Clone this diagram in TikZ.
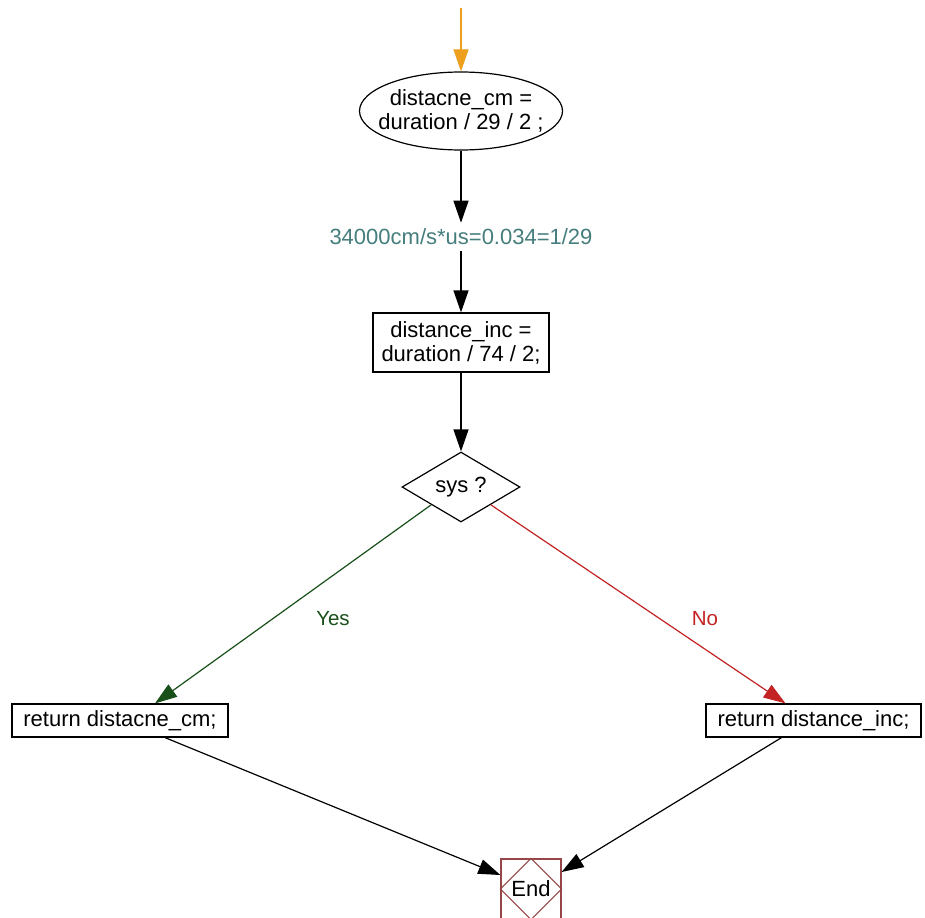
\documentclass[tikz,border=0pt]{standalone}
\usepackage{fontspec}
\setmainfont{Liberation Sans}
\usetikzlibrary{shapes.geometric,arrows.meta,calc}

\definecolor{floworange}{RGB}{236,160,30}
\definecolor{noteteal}{RGB}{70,125,125}
\definecolor{yesgreen}{RGB}{25,80,25}
\definecolor{nored}{RGB}{195,35,35}
\definecolor{endred}{RGB}{150,70,70}

\tikzset{
  base/.style={font=\fontsize{22}{24}\selectfont, align=center},
  proc/.style={base, draw, line width=1.2pt, inner sep=0pt},
  flow/.style={line width=1.2pt, -{Triangle[length=22pt,width=15pt]}},
  branchlabel/.style={font=\fontsize{20.5}{24}\selectfont, inner sep=0pt}
}

\begin{document}
\begin{tikzpicture}[x=1pt, y=-1pt]
\useasboundingbox (0,0) rectangle (925,917);
\fill[white] (0,0) rectangle (925,917);

% start of the routine
\coordinate (entry) at (461,8);

% computation nodes
\node[proc, ellipse, inner xsep=-24pt, inner ysep=0pt, minimum width=203pt, minimum height=78pt] (cm) at (461,111)
  {distacne\_cm =\\duration / 29 / 2 ;};
\node[base, text=noteteal, inner sep=6pt] (note) at (461,237) {34000cm/s*us=0.034=1/29};
\node[proc, minimum width=176pt, minimum height=59pt] (inc) at (461,342.5)
  {distance\_inc =\\duration / 74 / 2;};
\node[proc, diamond, shape aspect=1.7, minimum width=118pt, minimum height=70pt] (sys) at (461,487) {sys ?};

% results
\node[proc, minimum width=216pt, minimum height=33pt] (retcm) at (120,720.5) {return distacne\_cm;};
\node[proc, minimum width=215pt, minimum height=33pt] (retinc) at (813.5,720.5) {return distance\_inc;};

% terminator
\node[base, draw=endred, line width=1.2pt, minimum width=60pt, minimum height=60pt, inner sep=0pt] (end) at (531,889) {End};
\draw[endred, line width=1pt] (end.north) -- (end.east) -- (end.south) -- (end.west) -- cycle;

% branch labels
\node[branchlabel, text=yesgreen] (yeslab) at (333,619) {Yes};
\node[branchlabel, text=nored] (nolab) at (705,619) {No};

% connectors
\draw[flow, floworange] (entry) -- (cm.north);
\draw[flow] (cm.south) -- (note.north);
\draw[flow] (note.south) -- (inc.north);
\draw[flow] (inc.south) -- (sys.north);
\draw[flow, yesgreen] (sys.south west) -- ($(retcm.north)+(35,0)$);
\draw[flow, nored] (sys.south east) -- ($(retinc.north)+(-28,0)$);
\draw[flow] ($(retcm.south)+(45,0)$) -- ($(end.west)+(0,-14)$);
\draw[flow] ($(retinc.south)+(-32,0)$) -- ($(end.east)+(0,-17)$);
\end{tikzpicture}
\end{document}
